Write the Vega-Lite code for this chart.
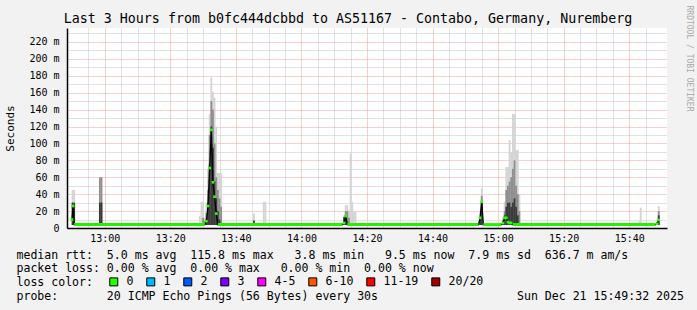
{
"$schema": "https://vega.github.io/schema/vega-lite/v6.json",
"width": 600, "height": 200,
"autosize": {"type": "none"},
"padding": {"left": 67, "top": 28, "right": 30, "bottom": 82},
"background": "#f2f2f2",
"view": {"fill": "white", "stroke": null},
"title": {"text": "Last 3 Hours from b0fc444dcbbd to AS51167 - Contabo, Germany, Nuremberg", "font": "DejaVu Sans Mono", "fontSize": 13.3, "fontWeight": "normal", "color": "black", "anchor": "middle", "frame": "group", "dx": -19, "dy": 35, "offset": 4, "baseline": "alphabetic"},
"datasets": {
"smoke": [
{"t":"2025-12-21T12:50:10","hi":45,"lvl":"light"},
{"t":"2025-12-21T12:50:40","hi":45,"lvl":"light"},
{"t":"2025-12-21T13:29:00","hi":14,"lvl":"light"},
{"t":"2025-12-21T13:29:30","hi":31,"lvl":"light"},
{"t":"2025-12-21T13:30:00","hi":31,"lvl":"light"},
{"t":"2025-12-21T13:30:30","hi":12,"lvl":"light"},
{"t":"2025-12-21T13:31:00","hi":30,"lvl":"light"},
{"t":"2025-12-21T13:31:30","hi":70,"lvl":"light"},
{"t":"2025-12-21T13:32:00","hi":135,"lvl":"light"},
{"t":"2025-12-21T13:32:30","hi":178,"lvl":"light"},
{"t":"2025-12-21T13:33:00","hi":161,"lvl":"light"},
{"t":"2025-12-21T13:33:30","hi":154,"lvl":"light"},
{"t":"2025-12-21T13:34:00","hi":120,"lvl":"light"},
{"t":"2025-12-21T13:34:30","hi":65,"lvl":"light"},
{"t":"2025-12-21T13:35:00","hi":65,"lvl":"light"},
{"t":"2025-12-21T13:35:30","hi":65,"lvl":"light"},
{"t":"2025-12-21T13:45:30","hi":17,"lvl":"light"},
{"t":"2025-12-21T13:48:30","hi":31,"lvl":"light"},
{"t":"2025-12-21T13:49:00","hi":31,"lvl":"light"},
{"t":"2025-12-21T14:13:00","hi":15,"lvl":"light"},
{"t":"2025-12-21T14:13:30","hi":27,"lvl":"light"},
{"t":"2025-12-21T14:14:00","hi":27,"lvl":"light"},
{"t":"2025-12-21T14:14:30","hi":21,"lvl":"light"},
{"t":"2025-12-21T14:15:00","hi":88,"lvl":"light"},
{"t":"2025-12-21T14:15:30","hi":31,"lvl":"light"},
{"t":"2025-12-21T14:16:00","hi":19,"lvl":"light"},
{"t":"2025-12-21T14:16:30","hi":19,"lvl":"light"},
{"t":"2025-12-21T14:54:30","hi":20,"lvl":"light"},
{"t":"2025-12-21T14:55:00","hi":47,"lvl":"light"},
{"t":"2025-12-21T15:01:30","hi":12,"lvl":"light"},
{"t":"2025-12-21T15:02:00","hi":31,"lvl":"light"},
{"t":"2025-12-21T15:02:30","hi":72,"lvl":"light"},
{"t":"2025-12-21T15:03:00","hi":72,"lvl":"light"},
{"t":"2025-12-21T15:03:30","hi":104,"lvl":"light"},
{"t":"2025-12-21T15:04:00","hi":90,"lvl":"light"},
{"t":"2025-12-21T15:04:30","hi":135,"lvl":"light"},
{"t":"2025-12-21T15:05:00","hi":135,"lvl":"light"},
{"t":"2025-12-21T15:05:30","hi":92,"lvl":"light"},
{"t":"2025-12-21T15:06:00","hi":92,"lvl":"light"},
{"t":"2025-12-21T15:06:30","hi":40,"lvl":"light"},
{"t":"2025-12-21T15:43:00","hi":8,"lvl":"light"},
{"t":"2025-12-21T15:43:30","hi":24,"lvl":"light"},
{"t":"2025-12-21T15:48:30","hi":8,"lvl":"light"},
{"t":"2025-12-21T15:49:00","hi":26,"lvl":"light"},
{"t":"2025-12-21T12:58:30","hi":60,"lvl":"mid"},
{"t":"2025-12-21T12:59:00","hi":60,"lvl":"mid"},
{"t":"2025-12-21T13:30:00","hi":12,"lvl":"mid"},
{"t":"2025-12-21T13:30:30","hi":8,"lvl":"mid"},
{"t":"2025-12-21T13:31:00","hi":18,"lvl":"mid"},
{"t":"2025-12-21T13:31:30","hi":45,"lvl":"mid"},
{"t":"2025-12-21T13:32:00","hi":110,"lvl":"mid"},
{"t":"2025-12-21T13:32:30","hi":150,"lvl":"mid"},
{"t":"2025-12-21T13:33:00","hi":140,"lvl":"mid"},
{"t":"2025-12-21T13:33:30","hi":100,"lvl":"mid"},
{"t":"2025-12-21T13:34:00","hi":60,"lvl":"mid"},
{"t":"2025-12-21T13:34:30","hi":45,"lvl":"mid"},
{"t":"2025-12-21T13:35:00","hi":35,"lvl":"mid"},
{"t":"2025-12-21T13:35:30","hi":25,"lvl":"mid"},
{"t":"2025-12-21T14:13:30","hi":20,"lvl":"mid"},
{"t":"2025-12-21T14:14:00","hi":20,"lvl":"mid"},
{"t":"2025-12-21T14:14:30","hi":12,"lvl":"mid"},
{"t":"2025-12-21T14:55:00","hi":38,"lvl":"mid"},
{"t":"2025-12-21T15:02:00","hi":20,"lvl":"mid"},
{"t":"2025-12-21T15:02:30","hi":45,"lvl":"mid"},
{"t":"2025-12-21T15:03:00","hi":50,"lvl":"mid"},
{"t":"2025-12-21T15:03:30","hi":55,"lvl":"mid"},
{"t":"2025-12-21T15:04:00","hi":60,"lvl":"mid"},
{"t":"2025-12-21T15:04:30","hi":70,"lvl":"mid"},
{"t":"2025-12-21T15:05:00","hi":80,"lvl":"mid"},
{"t":"2025-12-21T15:05:30","hi":50,"lvl":"mid"},
{"t":"2025-12-21T15:06:00","hi":40,"lvl":"mid"},
{"t":"2025-12-21T15:06:30","hi":20,"lvl":"mid"},
{"t":"2025-12-21T15:49:00","hi":20,"lvl":"mid"},
{"t":"2025-12-21T12:50:10","hi":30,"lvl":"dark"},
{"t":"2025-12-21T12:50:40","hi":30,"lvl":"dark"},
{"t":"2025-12-21T12:58:30","hi":30,"lvl":"dark"},
{"t":"2025-12-21T12:59:00","hi":30,"lvl":"dark"},
{"t":"2025-12-21T13:31:00","hi":10,"lvl":"dark"},
{"t":"2025-12-21T13:31:30","hi":30,"lvl":"dark"},
{"t":"2025-12-21T13:32:00","hi":75,"lvl":"dark"},
{"t":"2025-12-21T13:32:30","hi":120,"lvl":"dark"},
{"t":"2025-12-21T13:33:00","hi":95,"lvl":"dark"},
{"t":"2025-12-21T13:33:30","hi":55,"lvl":"dark"},
{"t":"2025-12-21T13:34:00","hi":35,"lvl":"dark"},
{"t":"2025-12-21T13:34:30","hi":20,"lvl":"dark"},
{"t":"2025-12-21T13:35:00","hi":10,"lvl":"dark"},
{"t":"2025-12-21T13:45:30","hi":9,"lvl":"dark"},
{"t":"2025-12-21T14:13:00","hi":13,"lvl":"dark"},
{"t":"2025-12-21T14:13:30","hi":15,"lvl":"dark"},
{"t":"2025-12-21T14:54:30","hi":13,"lvl":"dark"},
{"t":"2025-12-21T14:55:00","hi":31,"lvl":"dark"},
{"t":"2025-12-21T15:01:30","hi":9,"lvl":"dark"},
{"t":"2025-12-21T15:02:00","hi":15,"lvl":"dark"},
{"t":"2025-12-21T15:02:30","hi":25,"lvl":"dark"},
{"t":"2025-12-21T15:03:00","hi":30,"lvl":"dark"},
{"t":"2025-12-21T15:03:30","hi":30,"lvl":"dark"},
{"t":"2025-12-21T15:04:00","hi":25,"lvl":"dark"},
{"t":"2025-12-21T15:04:30","hi":30,"lvl":"dark"},
{"t":"2025-12-21T15:05:00","hi":35,"lvl":"dark"},
{"t":"2025-12-21T15:05:30","hi":25,"lvl":"dark"},
{"t":"2025-12-21T15:06:00","hi":15,"lvl":"dark"},
{"t":"2025-12-21T15:48:30","hi":7,"lvl":"dark"},
{"t":"2025-12-21T15:49:00","hi":15,"lvl":"dark"}
],
"median": [
{"t":"2025-12-21T12:50:00","med":10,"loss":"0"},
{"t":"2025-12-21T12:50:20","med":26,"loss":"0"},
{"t":"2025-12-21T12:50:40","med":4,"seg":1},
{"t":"2025-12-21T13:30:30","med":4,"seg":1},
{"t":"2025-12-21T13:31:00","med":8,"loss":"0"},
{"t":"2025-12-21T13:31:30","med":26,"loss":"0"},
{"t":"2025-12-21T13:32:00","med":71,"loss":"0"},
{"t":"2025-12-21T13:32:30","med":116,"loss":"0"},
{"t":"2025-12-21T13:33:00","med":54,"loss":"0"},
{"t":"2025-12-21T13:33:30","med":37,"loss":"0"},
{"t":"2025-12-21T13:34:00","med":17,"loss":"0"},
{"t":"2025-12-21T13:34:30","med":4,"seg":2},
{"t":"2025-12-21T14:12:30","med":4,"seg":2},
{"t":"2025-12-21T14:13:00","med":6,"loss":"0"},
{"t":"2025-12-21T14:13:30","med":14,"loss":"0"},
{"t":"2025-12-21T14:14:00","med":4,"seg":3},
{"t":"2025-12-21T14:54:00","med":4,"seg":3},
{"t":"2025-12-21T14:54:30","med":12,"loss":"0"},
{"t":"2025-12-21T14:55:00","med":31,"loss":"0"},
{"t":"2025-12-21T14:55:30","med":4,"seg":4},
{"t":"2025-12-21T15:01:00","med":4,"seg":4},
{"t":"2025-12-21T15:01:30","med":6,"loss":"0"},
{"t":"2025-12-21T15:02:00","med":12,"loss":"0"},
{"t":"2025-12-21T15:02:30","med":12,"loss":"0"},
{"t":"2025-12-21T15:03:00","med":7,"loss":"0"},
{"t":"2025-12-21T15:03:30","med":6,"loss":"0"},
{"t":"2025-12-21T15:04:00","med":6,"loss":"0"},
{"t":"2025-12-21T15:04:30","med":4,"seg":5},
{"t":"2025-12-21T15:48:00","med":4,"seg":5},
{"t":"2025-12-21T15:48:30","med":5,"loss":"0"},
{"t":"2025-12-21T15:49:00","med":9.5,"loss":"0"}
]
},
"resolve": {"axis": {"x": "independent", "y": "independent"}},
"layer": [
{
"data": {"name": "smoke"},
"mark": {"type": "bar", "size": 1.8},
"encoding": {
"x": {"field": "t", "type": "temporal", "scale": {"domain": [{"year":2025,"month":12,"date":21,"hours":12,"minutes":50},{"year":2025,"month":12,"date":21,"hours":15,"minutes":50}]},
 "axis": {"orient": "bottom", "values": [
 {"year":2025,"month":12,"date":21,"hours":12,"minutes":55},
 {"year":2025,"month":12,"date":21,"hours":13,"minutes":5},
 {"year":2025,"month":12,"date":21,"hours":13,"minutes":10},
 {"year":2025,"month":12,"date":21,"hours":13,"minutes":15},
 {"year":2025,"month":12,"date":21,"hours":13,"minutes":25},
 {"year":2025,"month":12,"date":21,"hours":13,"minutes":30},
 {"year":2025,"month":12,"date":21,"hours":13,"minutes":35},
 {"year":2025,"month":12,"date":21,"hours":13,"minutes":45},
 {"year":2025,"month":12,"date":21,"hours":13,"minutes":50},
 {"year":2025,"month":12,"date":21,"hours":13,"minutes":55},
 {"year":2025,"month":12,"date":21,"hours":14,"minutes":5},
 {"year":2025,"month":12,"date":21,"hours":14,"minutes":10},
 {"year":2025,"month":12,"date":21,"hours":14,"minutes":15},
 {"year":2025,"month":12,"date":21,"hours":14,"minutes":25},
 {"year":2025,"month":12,"date":21,"hours":14,"minutes":30},
 {"year":2025,"month":12,"date":21,"hours":14,"minutes":35},
 {"year":2025,"month":12,"date":21,"hours":14,"minutes":45},
 {"year":2025,"month":12,"date":21,"hours":14,"minutes":50},
 {"year":2025,"month":12,"date":21,"hours":14,"minutes":55},
 {"year":2025,"month":12,"date":21,"hours":15,"minutes":5},
 {"year":2025,"month":12,"date":21,"hours":15,"minutes":10},
 {"year":2025,"month":12,"date":21,"hours":15,"minutes":15},
 {"year":2025,"month":12,"date":21,"hours":15,"minutes":25},
 {"year":2025,"month":12,"date":21,"hours":15,"minutes":30},
 {"year":2025,"month":12,"date":21,"hours":15,"minutes":35},
 {"year":2025,"month":12,"date":21,"hours":15,"minutes":45}
 ], "grid": true, "gridColor": "#c4c4c4", "gridDash": [1,1], "labels": false, "ticks": false, "domain": false, "title": null}},
"y": {"field": "hi", "type": "quantitative", "scale": {"domain": [0, 236.5], "nice": false, "zero": true},
 "axis": {"orient": "left", "values": [10,30,50,70,90,110,130,150,170,190,210,230], "grid": true, "gridColor": "#c4c4c4", "gridDash": [1,1], "labels": false, "ticks": false, "domain": false, "title": null}},
"y2": {"datum": 3.5},
"fill": {"field": "lvl", "type": "nominal", "scale": {"domain": ["light","mid","dark"], "range": ["#d4d4d4","#8e8e8e","#3a3a3a"]}, "legend": null}
}
},
{
"data": {"name": "median"},
"mark": {"type": "line", "color": "black", "strokeWidth": 1.3},
"encoding": {
"x": {"field": "t", "type": "temporal", "scale": {"domain": [{"year":2025,"month":12,"date":21,"hours":12,"minutes":50},{"year":2025,"month":12,"date":21,"hours":15,"minutes":50}]},
 "axis": {"orient": "bottom", "values": [
 {"year":2025,"month":12,"date":21,"hours":13,"minutes":0},
 {"year":2025,"month":12,"date":21,"hours":13,"minutes":20},
 {"year":2025,"month":12,"date":21,"hours":13,"minutes":40},
 {"year":2025,"month":12,"date":21,"hours":14,"minutes":0},
 {"year":2025,"month":12,"date":21,"hours":14,"minutes":20},
 {"year":2025,"month":12,"date":21,"hours":14,"minutes":40},
 {"year":2025,"month":12,"date":21,"hours":15,"minutes":0},
 {"year":2025,"month":12,"date":21,"hours":15,"minutes":20},
 {"year":2025,"month":12,"date":21,"hours":15,"minutes":40}
 ], "format": "%H:%M", "grid": true, "gridColor": "#f2a0a0", "gridDash": [1,1], "ticks": false, "domain": true, "domainColor": "black", "domainWidth": 1.5, "labelFont": "DejaVu Sans Mono", "labelFontSize": 10, "labelColor": "black", "labelPadding": 5, "labelFlush": false, "labelOverlap": false,
  "title": ["median rtt:\u00a0\u00a05.0 ms avg\u00a0\u00a0115.8 ms max\u00a0\u00a0\u00a03.8 ms min\u00a0\u00a0\u00a09.5 ms now\u00a0\u00a07.9 ms sd\u00a0\u00a0636.7 m am/s",
   "packet loss:\u00a00.00 % avg\u00a0\u00a00.00 % max\u00a0\u00a0\u00a00.00 % min\u00a0\u00a00.00 % now",
   "loss color:",
   "probe:\u00a0\u00a0\u00a0\u00a0\u00a0\u00a0\u00a020 ICMP Echo Pings (56 Bytes) every 30s\u00a0\u00a0\u00a0\u00a0\u00a0\u00a0\u00a0\u00a0\u00a0\u00a0\u00a0\u00a0\u00a0\u00a0\u00a0\u00a0\u00a0\u00a0\u00a0\u00a0Sun Dec 21 15:49:32 2025"],
  "titleFont": "DejaVu Sans Mono", "titleFontSize": 11.55, "titleFontWeight": "normal", "titleColor": "black", "titleAlign": "left", "titleBaseline": "alphabetic", "titleX": -51, "titleY": 30, "titleLineHeight": 13.7}},
"y": {"field": "med", "type": "quantitative", "scale": {"domain": [0, 236.5], "nice": false, "zero": true},
 "axis": {"orient": "left", "values": [0,20,40,60,80,100,120,140,160,180,200,220], "grid": true, "gridColor": "#f2a0a0", "gridDash": [1,1], "ticks": false, "domain": true, "domainColor": "black", "domainWidth": 1.5,
  "labelExpr": "datum.value == 0 ? '0\u00a0\u00a0' : datum.value + ' m'", "labelFont": "DejaVu Sans Mono", "labelFontSize": 10, "labelColor": "black", "labelPadding": 8,
  "title": "Seconds", "titleFont": "DejaVu Sans Mono", "titleFontSize": 11, "titleFontWeight": "normal", "titleColor": "black", "titleX": -57, "titleY": 100, "titleAngle": -90, "titleAlign": "center", "titleBaseline": "middle"}}
}
},
{
"data": {"name": "median"},
"transform": [{"filter": "datum.seg != null"}],
"mark": {"type": "line", "color": "#26f000", "strokeWidth": 3},
"encoding": {
"x": {"field": "t", "type": "temporal", "scale": {"domain": [{"year":2025,"month":12,"date":21,"hours":12,"minutes":50},{"year":2025,"month":12,"date":21,"hours":15,"minutes":50}]}, "axis": null},
"y": {"field": "med", "type": "quantitative", "scale": {"domain": [0, 236.5], "nice": false, "zero": true}, "axis": null},
"detail": {"field": "seg", "type": "nominal"}
}
},
{
"data": {"name": "median"},
"transform": [{"filter": "datum.seg == null"}],
"mark": {"type": "point", "shape": "square", "filled": true, "size": 7, "opacity": 1},
"encoding": {
"x": {"field": "t", "type": "temporal", "scale": {"domain": [{"year":2025,"month":12,"date":21,"hours":12,"minutes":50},{"year":2025,"month":12,"date":21,"hours":15,"minutes":50}]}, "axis": null},
"y": {"field": "med", "type": "quantitative", "scale": {"domain": [0, 236.5], "nice": false, "zero": true},
 "axis": {"orient": "right", "grid": false, "labels": false, "ticks": false, "domain": false, "title": "RRDTOOL / TOBI OETIKER", "titleFont": "DejaVu Sans Mono", "titleFontSize": 8, "titleFontWeight": "normal", "titleColor": "#a8a8a8", "titleAngle": 90, "titleAlign": "left", "titleBaseline": "middle", "titleX": 21, "titleY": -23}},
"color": {"field": "loss", "type": "nominal",
 "scale": {"domain": ["0","1","2","3","4-5","6-10","11-19","20/20"], "range": ["#26ff00","#00b8ff","#0059ff","#7e00ff","#ff00ff","#ff5500","#ff0000","#a10000"]},
 "legend": {"orient": "none", "legendX": 41, "legendY": 248, "direction": "horizontal", "title": null, "symbolType": "square", "symbolSize": 64, "symbolStrokeColor": "black", "symbolStrokeWidth": 1, "symbolOpacity": 1, "labelFont": "DejaVu Sans Mono", "labelFontSize": 11.55, "labelColor": "black", "labelOffset": 7, "columnPadding": 10, "padding": 0}}
}
}
]
}
